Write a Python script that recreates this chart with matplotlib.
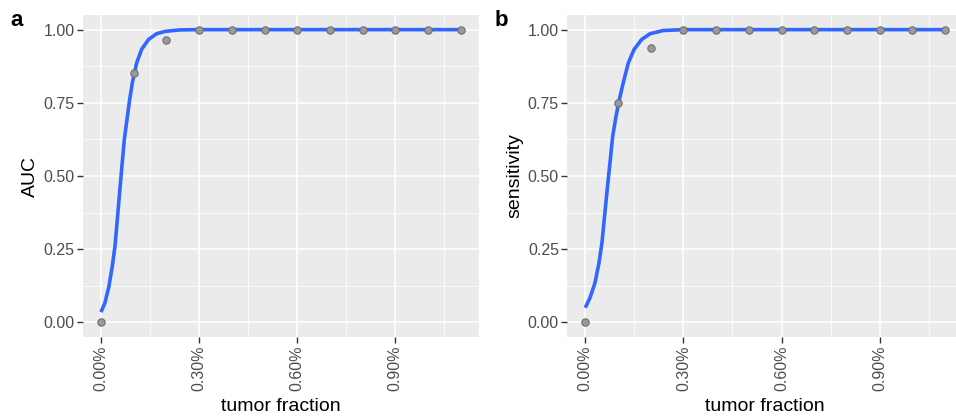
import numpy as np
import matplotlib.pyplot as plt
from matplotlib.ticker import FixedLocator

plt.rcParams['font.family'] = ['Liberation Sans', 'DejaVu Sans']

# observed points (tumor fraction in %)
tf = [0.0, 0.1, 0.2, 0.3, 0.4, 0.5, 0.6, 0.7, 0.8, 0.9, 1.0, 1.1]
auc = [0.0, 0.853, 0.963, 1, 1, 1, 1, 1, 1, 1, 1, 1]
sens = [0.0, 0.75, 0.9375, 1, 1, 1, 1, 1, 1, 1, 1, 1]

# fitted curves
fit_a_x = [0.0, 0.0122, 0.0245, 0.0346, 0.0428, 0.050, 0.057, 0.064, 0.0714,
           0.0795, 0.0877, 0.0958, 0.109, 0.124, 0.145, 0.170, 0.196, 0.24,
           0.30, 0.50, 0.80, 1.1]
fit_a_y = [0.035, 0.067, 0.124, 0.192, 0.260, 0.352, 0.443, 0.533, 0.625,
           0.693, 0.761, 0.818, 0.886, 0.932, 0.966, 0.986, 0.994, 0.999,
           1.0, 1.0, 1.0, 1.0]
fit_b_x = [0.0, 0.0144, 0.0297, 0.042, 0.051, 0.059, 0.067, 0.0755, 0.0838,
           0.094, 0.104, 0.116, 0.1315, 0.149, 0.172, 0.198, 0.238, 0.30,
           0.50, 0.80, 1.1]
fit_b_y = [0.050, 0.084, 0.135, 0.204, 0.272, 0.363, 0.454, 0.545, 0.636,
           0.704, 0.761, 0.818, 0.886, 0.932, 0.966, 0.986, 0.997, 1.0,
           1.0, 1.0, 1.0]

fig = plt.figure(figsize=(9.56, 4.19), dpi=100)

panels = [
    (0.0868, 'a', 'AUC', auc, fit_a_x, fit_a_y),
    (0.5934, 'b', 'sensitivity', sens, fit_b_x, fit_b_y),
]

for left, tag, ylab, yv, fx, fy in panels:
    ax = fig.add_axes([left, 0.1957, 0.414, 0.7685])
    ax.set_facecolor('#EBEBEB')
    for s in ax.spines.values():
        s.set_visible(False)

    ax.set_xlim(-0.055, 1.155)
    ax.set_ylim(-0.05, 1.05)

    ax.xaxis.set_major_locator(FixedLocator([0.0, 0.3, 0.6, 0.9]))
    ax.xaxis.set_minor_locator(FixedLocator([0.15, 0.45, 0.75, 1.05]))
    ax.yaxis.set_major_locator(FixedLocator([0, 0.25, 0.5, 0.75, 1.0]))
    ax.yaxis.set_minor_locator(FixedLocator([0.125, 0.375, 0.625, 0.875]))
    ax.set_xticklabels(['0.00%', '0.30%', '0.60%', '0.90%'], rotation=90)
    ax.set_yticklabels(['0.00', '0.25', '0.50', '0.75', '1.00'])

    ax.grid(which='major', color='white', linewidth=1.1)
    ax.grid(which='minor', color='white', linewidth=0.55)
    ax.set_axisbelow(True)
    ax.tick_params(which='major', length=4, width=1.0, color='#333333',
                   labelcolor='#4D4D4D', labelsize=11.5, pad=2)
    ax.tick_params(which='minor', length=0)

    ax.plot(fx, fy, color='#3366FF', linewidth=2.6, zorder=3, solid_capstyle='butt')
    ax.scatter(tf, yv, s=28, facecolor='#9A9A9A', edgecolor='#6E6E6E',
               linewidth=0.8, zorder=4)

    ax.set_xlabel('tumor fraction', fontsize=14, labelpad=5)
    ax.set_ylabel(ylab, fontsize=14, labelpad=3)

    fig.text(left - 0.076, 0.952, tag, fontsize=16, fontweight='bold',
             va='center', ha='left')

fig.savefig('out.png', dpi=100)
